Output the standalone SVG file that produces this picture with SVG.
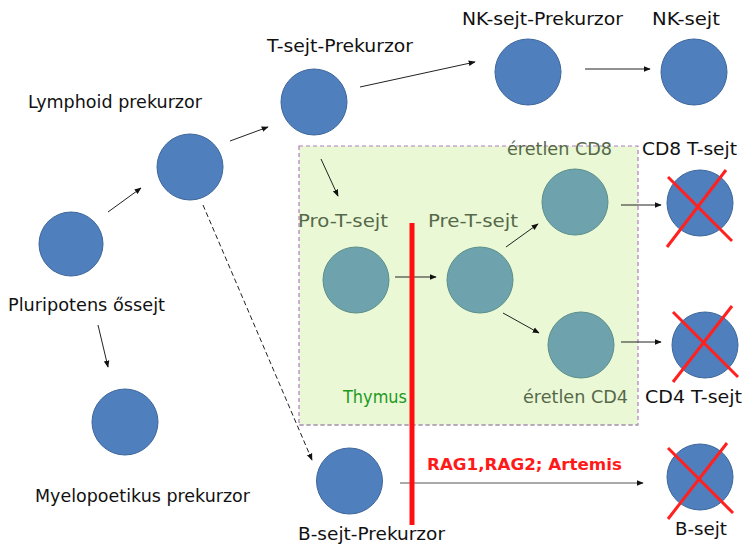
<svg xmlns="http://www.w3.org/2000/svg" width="750" height="554" viewBox="0 0 750 554">
<style>
.t{font-family:"DejaVu Sans","Liberation Sans",sans-serif;font-size:17px;fill:#111;text-anchor:middle}
.g{fill:#56684a}
.th{fill:#1e9a1e}
.rag{font-family:"DejaVu Sans","Liberation Sans",sans-serif;font-weight:bold;font-size:16px;fill:#ff1a1a;text-anchor:middle}
.b{fill:#4f7fbd;stroke:#3d669a;stroke-width:1}
.tl{fill:#6ea3ad;stroke:#5b8e8a;stroke-width:1}
.a{stroke:#222;stroke-width:1;fill:none;marker-end:url(#ah)}
.x{stroke:#ff2020;stroke-width:3}
</style>
<defs>
<marker id="ah" viewBox="0 0 10 10" refX="9" refY="5" markerWidth="7" markerHeight="7" markerUnits="userSpaceOnUse" orient="auto">
<path d="M0,1 L10,5 L0,9 z" fill="#111"/>
</marker>
</defs>
<rect width="750" height="554" fill="#ffffff"/>
<g id="thymus">
<rect x="299" y="146" width="339" height="279" fill="#eaf8d6" stroke="#b07cc4" stroke-width="1.2" stroke-dasharray="4,3"/>
<line x1="299" y1="425" x2="638" y2="425" stroke="#999" stroke-width="1.2" stroke-dasharray="4,3"/>
<text class="t th" x="375" y="403" textLength="64" lengthAdjust="spacingAndGlyphs">Thymus</text>
</g>
<g id="connectors">
<line class="a" x1="108" y1="212" x2="141" y2="188"/>
<line class="a" x1="230" y1="141" x2="268" y2="127"/>
<line class="a" x1="360" y1="87" x2="475" y2="62"/>
<line class="a" x1="585" y1="69" x2="650" y2="69"/>
<line class="a" x1="321" y1="159" x2="338" y2="196"/>
<line class="a" x1="395" y1="277" x2="436" y2="277"/>
<line class="a" x1="506" y1="247" x2="538" y2="224"/>
<line class="a" x1="503" y1="313" x2="539" y2="333"/>
<line class="a" x1="621" y1="205" x2="661" y2="205"/>
<line class="a" x1="621" y1="342" x2="661" y2="342"/>
<line class="a" x1="98" y1="325" x2="108" y2="367"/>
<line class="a" x1="203" y1="205" x2="312" y2="460" stroke-dasharray="5,3"/>
<line class="a" x1="400" y1="483" x2="643" y2="483" style="stroke:#555"/>
</g>
<g id="pluripotens"><circle class="b" cx="71" cy="244" r="32"/><text class="t" x="86.5" y="311" textLength="157" lengthAdjust="spacingAndGlyphs">Pluripotens őssejt</text></g>
<g id="lymphoid"><circle class="b" cx="190" cy="167" r="33"/><text class="t" x="115" y="108" textLength="174" lengthAdjust="spacingAndGlyphs">Lymphoid prekurzor</text></g>
<g id="tprec"><circle class="b" cx="314" cy="102" r="33"/><text class="t" x="340" y="52" textLength="146" lengthAdjust="spacingAndGlyphs">T-sejt-Prekurzor</text></g>
<g id="nkprec"><circle class="b" cx="528" cy="72" r="33"/><text class="t" x="542.5" y="25" textLength="161" lengthAdjust="spacingAndGlyphs">NK-sejt-Prekurzor</text></g>
<g id="nk"><circle class="b" cx="694" cy="72" r="33"/><text class="t" x="686" y="25" textLength="68" lengthAdjust="spacingAndGlyphs">NK-sejt</text></g>
<g id="myelo"><circle class="b" cx="125" cy="422" r="33"/><text class="t" x="142.5" y="502" textLength="215" lengthAdjust="spacingAndGlyphs">Myelopoetikus prekurzor</text></g>
<g id="prot"><circle class="tl" cx="356" cy="280" r="33"/><text class="t g" x="343" y="227" textLength="90" lengthAdjust="spacingAndGlyphs">Pro-T-sejt</text></g>
<g id="pret"><circle class="tl" cx="480" cy="280" r="33"/><text class="t g" x="473" y="227" textLength="90" lengthAdjust="spacingAndGlyphs">Pre-T-sejt</text></g>
<g id="cd8imm"><circle class="tl" cx="575" cy="202" r="33"/><text class="t g" x="559.5" y="155" textLength="105" lengthAdjust="spacingAndGlyphs">éretlen CD8</text></g>
<g id="cd4imm"><circle class="tl" cx="581" cy="345" r="33"/><text class="t g" x="575.5" y="403" textLength="105" lengthAdjust="spacingAndGlyphs">éretlen CD4</text></g>
<g id="cd8t"><circle class="b" cx="700" cy="203" r="33"/><line class="x" x1="668" y1="177" x2="732" y2="241"/><line class="x" x1="726" y1="170" x2="667" y2="247"/><text class="t" x="689.5" y="155" textLength="95" lengthAdjust="spacingAndGlyphs">CD8 T-sejt</text></g>
<g id="cd4t"><circle class="b" cx="705" cy="345" r="33"/><line class="x" x1="673" y1="312" x2="738" y2="377"/><line class="x" x1="732" y1="306" x2="673" y2="382"/><text class="t" x="693.5" y="403" textLength="97" lengthAdjust="spacingAndGlyphs">CD4 T-sejt</text></g>
<g id="bprec"><circle class="b" cx="349.5" cy="481" r="33"/><text class="t" x="371.5" y="540" textLength="147" lengthAdjust="spacingAndGlyphs">B-sejt-Prekurzor</text></g>
<g id="bsejt"><circle class="b" cx="700" cy="477" r="33"/><line class="x" x1="668" y1="448" x2="733" y2="513"/><line class="x" x1="727" y1="443" x2="668" y2="519"/><text class="t" x="701" y="535" textLength="52" lengthAdjust="spacingAndGlyphs">B-sejt</text></g>
<g id="block">
<line x1="412" y1="223" x2="412" y2="525" stroke="#ff1010" stroke-width="5"/>
<text class="rag" x="524.5" y="470" textLength="195" lengthAdjust="spacingAndGlyphs">RAG1,RAG2; Artemis</text>
</g>
</svg>
